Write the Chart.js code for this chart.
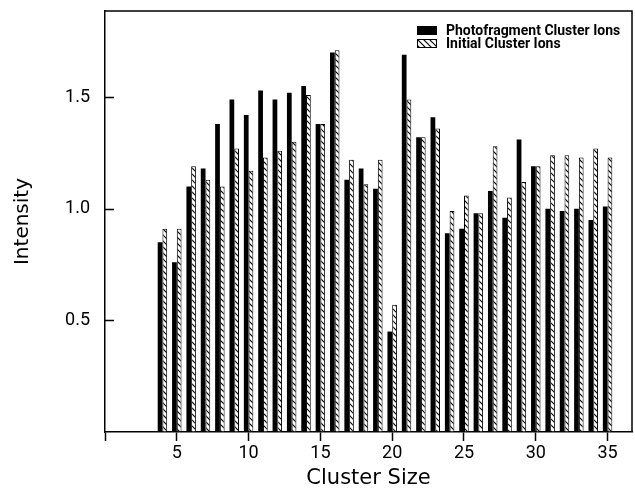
<!DOCTYPE html>
<html>
<head>
<meta charset="utf-8">
<script src="https://cdn.jsdelivr.net/npm/chart.js@4.4.1/dist/chart.umd.min.js"></script>
<style>
  html, body { margin: 0; padding: 0; background: #fff; }
  #chart { display: block; }
</style>
</head>
<body>
<canvas id="chart" width="635" height="493"></canvas>
<script>
// cluster sizes and normalised intensities
const clusterSizes = [4, 5, 6, 7, 8, 9, 10, 11, 12, 13, 14, 15, 16, 17, 18, 19,
                      20, 21, 22, 23, 24, 25, 26, 27, 28, 29, 30, 31, 32, 33, 34, 35];
const photofragment = [0.85, 0.76, 1.10, 1.18, 1.38, 1.49, 1.42, 1.53, 1.49, 1.52, 1.55, 1.38, 1.70, 1.13, 1.18, 1.09,
                       0.45, 1.69, 1.32, 1.41, 0.89, 0.91, 0.98, 1.08, 0.96, 1.31, 1.19, 1.00, 0.99, 1.00, 0.95, 1.01];
const initial = [0.91, 0.91, 1.19, 1.13, 1.10, 1.27, 1.17, 1.23, 1.26, 1.30, 1.51, 1.38, 1.71, 1.22, 1.11, 1.22,
                 0.57, 1.49, 1.32, 1.36, 0.99, 1.06, 0.98, 1.28, 1.05, 1.12, 1.19, 1.24, 1.24, 1.23, 1.27, 1.23];
const seriesLabels = ['Photofragment Cluster Ions', 'Initial Cluster Ions'];

// diagonal hatch fill
function makeHatch() {
    const c = document.createElement('canvas');
    c.width = 6;
    c.height = 6;
    const g = c.getContext('2d');
    g.fillStyle = '#fff';
    g.fillRect(0, 0, 6, 6);
    g.strokeStyle = '#000';
    g.lineWidth = 1.2;
    g.beginPath();
    g.moveTo(-1, -1); g.lineTo(7, 7);
    g.moveTo(-4, 2); g.lineTo(4, 10);
    g.moveTo(2, -4); g.lineTo(10, 4);
    g.stroke();
    return g.createPattern(c, 'repeat');
}
const hatch = makeHatch();

const toPoints = (vals) => vals.map((v, i) => ({ x: clusterSizes[i], y: v }));

// box around the plot, inward y ticks and the legend
const frame = {
    id: 'frame',
    afterDatasetsDraw(chart) {
        const { ctx, chartArea: a, scales: { y } } = chart;
        ctx.save();
        ctx.strokeStyle = '#000';
        ctx.lineWidth = 1.5;
        ctx.beginPath();
        ctx.moveTo(a.left, a.top);
        ctx.lineTo(a.right, a.top);
        ctx.lineTo(a.right, a.bottom);
        y.ticks.forEach(t => {
            if (t.value === 0) return;
            const py = Math.round(y.getPixelForValue(t.value)) + 0.5;
            ctx.moveTo(a.left, py);
            ctx.lineTo(a.left + 9, py);
        });
        ctx.stroke();

        ctx.font = 'bold 14px Roboto';
        ctx.textBaseline = 'middle';
        chart.data.datasets.forEach((ds, i) => {
            const bx = a.right - 215;
            const by = a.top + 15 + i * 13;
            ctx.fillStyle = ds.backgroundColor;
            ctx.fillRect(bx, by, 20, 9);
            ctx.lineWidth = 1;
            ctx.strokeRect(bx + 0.5, by + 0.5, 19, 8);
            ctx.fillStyle = '#000';
            ctx.fillText(ds.label, bx + 29, by + 5);
        });
        ctx.restore();
    }
};

new Chart(document.getElementById('chart'), {
    type: 'bar',
    data: {
        datasets: [
            {
                label: seriesLabels[0],
                data: toPoints(photofragment),
                backgroundColor: '#000',
                borderColor: '#000',
                borderWidth: 0,
            },
            {
                label: seriesLabels[1],
                data: toPoints(initial),
                backgroundColor: hatch,
                borderColor: '#000',
                borderWidth: 1,
            },
        ],
    },
    options: {
        responsive: false,
        animation: false,
        events: [],
        categoryPercentage: 0.66,
        barPercentage: 1.0,
        layout: { padding: { top: 11, right: 3, left: 0, bottom: 0 } },
        plugins: {
            legend: { display: false },
            tooltip: { enabled: false },
        },
        scales: {
            x: {
                type: 'linear',
                offset: false,
                min: 0,
                max: 36.7,
                afterFit: (s) => { s.height = 61; s.paddingLeft = 0; s.paddingRight = 0; },
                grid: { display: true, offset: false, drawOnChartArea: false, drawTicks: true, tickLength: 9, tickWidth: 1.5, color: '#000' },
                border: { color: '#000', width: 1.5 },
                ticks: {
                    stepSize: 5,
                    includeBounds: false,
                    maxRotation: 0,
                    padding: 2,
                    color: '#000',
                    font: { family: 'Roboto', size: 18 },
                    callback: (v) => (v === 0 ? '' : v),
                },
                title: {
                    display: true,
                    text: 'Cluster Size',
                    color: '#000',
                    font: { family: 'DejaVu Sans', size: 21, lineHeight: 1.2 },
                    padding: { top: 0, bottom: 2 },
                },
            },
            y: {
                min: 0,
                max: 1.886,
                afterFit: (s) => { s.width = 105; s.paddingTop = 0; s.paddingBottom = 0; },
                grid: { display: true, drawOnChartArea: false, drawTicks: false },
                border: { color: '#000', width: 1.5 },
                ticks: {
                    stepSize: 0.5,
                    includeBounds: false,
                    padding: 15,
                    color: '#000',
                    font: { family: 'Roboto', size: 18 },
                    callback: (v) => (v === 0 ? '' : v.toFixed(1)),
                },
                title: {
                    display: true,
                    text: 'Intensity',
                    color: '#000',
                    font: { family: 'DejaVu Sans', size: 20, lineHeight: 1.2 },
                    padding: { top: 11, bottom: 0 },
                },
            },
        },
    },
    plugins: [frame],
});
</script>
</body>
</html>
